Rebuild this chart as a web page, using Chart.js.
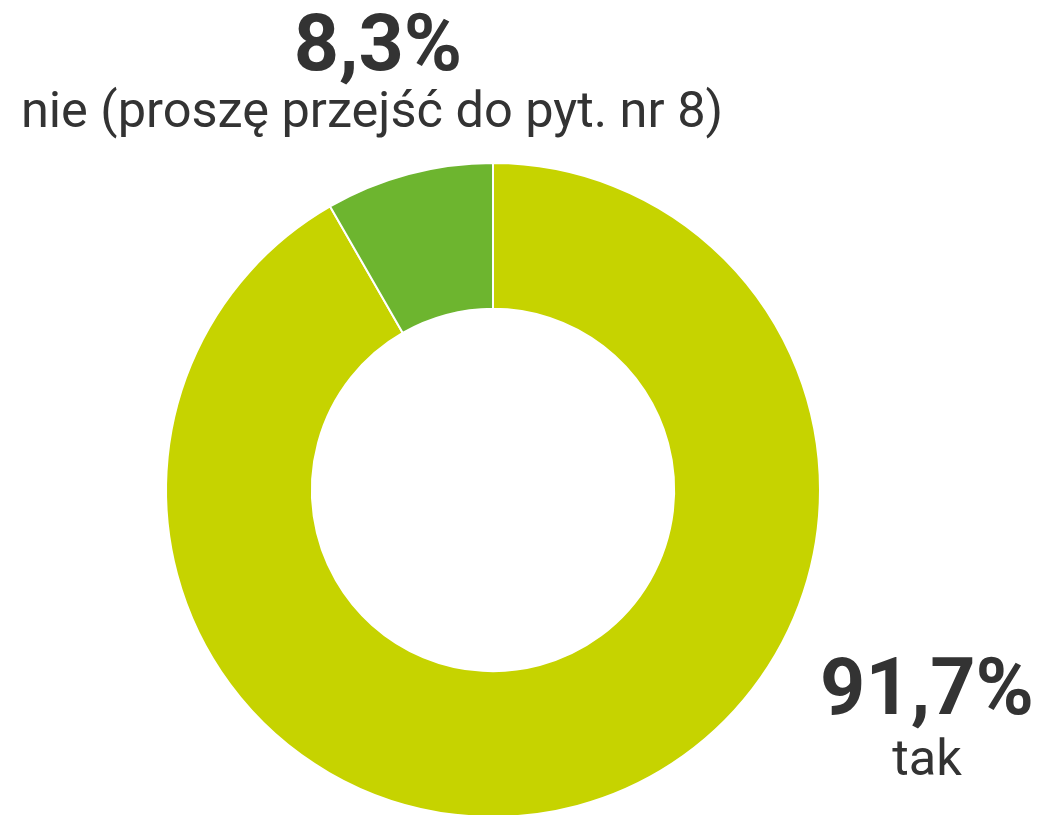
<!DOCTYPE html>
<html>
<head>
<meta charset="utf-8">
<script src="https://cdn.jsdelivr.net/npm/chart.js@4"></script>
<style>
	html, body { margin: 0; padding: 0; background: #fff; overflow: hidden; }
	#wrap { width: 1042px; height: 830px; position: relative; }
</style>
</head>
<body>
<div id="wrap"><canvas id="donutChart"></canvas></div>
<script>
const CATEGORIES = ['tak', 'nie (proszę przejść do pyt. nr 8)'];
const VALUES = [91.7, 8.3];
const VALUE_LABELS = ['91,7%', '8,3%'];
const COLORS = ['#C6D300', '#6DB52F'];

// where each label block sits (center x, baseline of the big number)
const LABEL_SPOTS = [
	{ x: 927, y: 714, gap: 61 },
	{ x: 378, y: 70, gap: 57 },
];

const labelPlugin = {
	id: 'sliceLabels',
	afterDraw(chart) {
		const ctx = chart.ctx;
		ctx.save();
		ctx.fillStyle = '#333333';
		ctx.textAlign = 'center';
		ctx.textBaseline = 'alphabetic';
		LABEL_SPOTS.forEach((spot, i) => {
			ctx.font = 'bold 79px Roboto';
			ctx.fillText(VALUE_LABELS[i], spot.x, spot.y);
			ctx.font = '50.5px Roboto';
			const dx = i === 1 ? -6 : 0;
			ctx.fillText(CATEGORIES[i], spot.x + dx, spot.y + spot.gap);
		});
		ctx.restore();
	},
};

const ctx = document.querySelector('#donutChart').getContext('2d');
new Chart(ctx, {
	type: 'doughnut',
	data: {
		labels: CATEGORIES,
		datasets: [
			{
				data: VALUES,
				backgroundColor: COLORS,
				borderColor: '#ffffff',
				borderWidth: 2,
			},
		],
	},
	options: {
		responsive: true,
		maintainAspectRatio: false,
		animation: false,
		cutout: '55.4%',
		layout: {
			padding: { left: 164, right: 220, top: 162, bottom: 12 },
		},
		plugins: {
			legend: { display: false },
			tooltip: { enabled: false },
		},
	},
	plugins: [labelPlugin],
});
</script>
</body>
</html>
